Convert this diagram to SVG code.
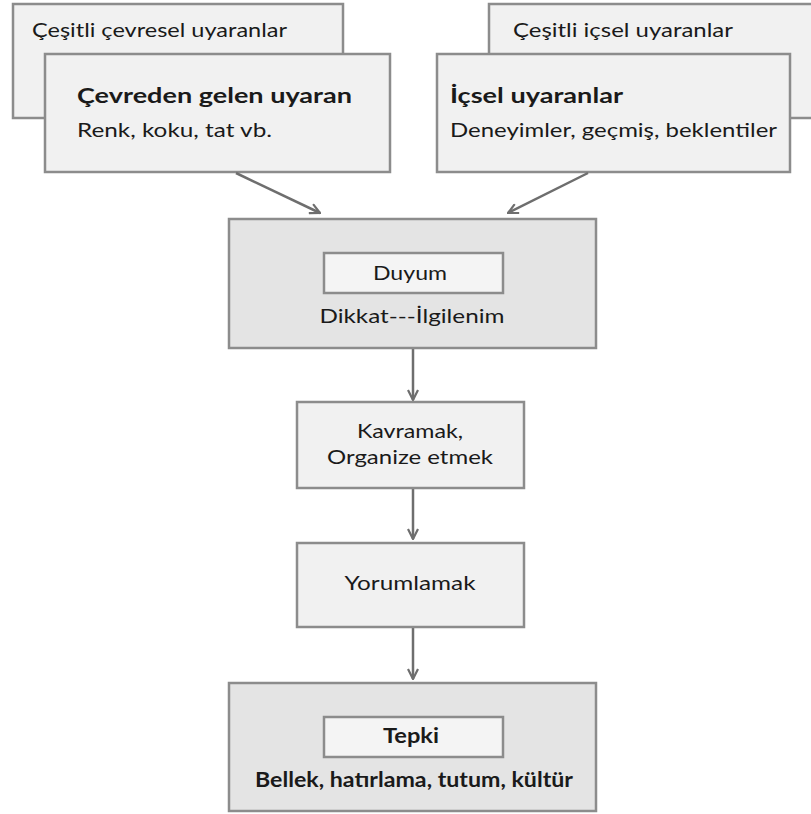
<svg xmlns="http://www.w3.org/2000/svg" width="811" height="814" viewBox="0 0 811 814">
<style>
.box{fill:#f1f1f1;stroke:#8c8c8c;stroke-width:2.5}
.big{fill:#e4e4e4;stroke:#8c8c8c;stroke-width:2.5}
.inner{fill:#f4f4f4;stroke:#8c8c8c;stroke-width:2.5}
text{font-family:Lato,"Open Sans","DejaVu Sans",sans-serif;font-size:20px;fill:#1a1a1a}
.b{font-weight:bold}
.h{font-size:21px}
.c{text-anchor:middle}
.conn{stroke:#6e6e6e;stroke-width:2.5;fill:none;marker-end:url(#ah)}
</style>
<defs>
<marker id="ah" viewBox="0 0 12 12" refX="11" refY="6" markerWidth="12" markerHeight="12" markerUnits="userSpaceOnUse" orient="auto">
<path d="M1,1 L11,6 L1,11" fill="none" stroke="#6e6e6e" stroke-width="2.2"/>
</marker>
</defs>
<g id="env-back"><rect class="box" x="13" y="4" width="330" height="114"/><text x="32" y="37" textLength="255" lengthAdjust="spacingAndGlyphs">Çeşitli çevresel uyaranlar</text></g>
<g id="env-front"><rect class="box" x="45" y="54" width="345" height="118"/><text class="b h" x="77" y="103" textLength="275" lengthAdjust="spacingAndGlyphs">Çevreden gelen uyaran</text><text x="77" y="137" textLength="195" lengthAdjust="spacingAndGlyphs">Renk, koku, tat vb.</text></g>
<g id="int-back"><rect class="box" x="489" y="4" width="330" height="114"/><text x="513" y="37" textLength="220" lengthAdjust="spacingAndGlyphs">Çeşitli içsel uyaranlar</text></g>
<g id="int-front"><rect class="box" x="437" y="54" width="353" height="118"/><text class="b h" x="450" y="103" textLength="173" lengthAdjust="spacingAndGlyphs">İçsel uyaranlar</text><text x="450" y="137" textLength="327" lengthAdjust="spacingAndGlyphs">Deneyimler, geçmiş, beklentiler</text></g>
<g id="connectors">
<line class="conn" x1="236" y1="173" x2="320" y2="213"/>
<line class="conn" x1="588" y1="173" x2="508" y2="213"/>
<line class="conn" x1="413" y1="349" x2="413" y2="400"/>
<line class="conn" x1="413" y1="489" x2="413" y2="539"/>
<line class="conn" x1="413" y1="628" x2="413" y2="679"/>
</g>
<g id="duyum"><rect class="big" x="229" y="219" width="367" height="129"/><rect class="inner" x="324" y="253" width="179" height="40"/><text class="c" x="410" y="280" textLength="74" lengthAdjust="spacingAndGlyphs">Duyum</text><text class="c" x="412" y="323" textLength="185" lengthAdjust="spacingAndGlyphs">Dikkat---İlgilenim</text></g>
<g id="kavramak"><rect class="box" x="297" y="402" width="227" height="86"/><text class="c" x="410" y="438" textLength="106" lengthAdjust="spacingAndGlyphs">Kavramak,</text><text class="c" x="410" y="464" textLength="166" lengthAdjust="spacingAndGlyphs">Organize etmek</text></g>
<g id="yorumlamak"><rect class="box" x="297" y="543" width="227" height="84"/><text class="c" x="410" y="590" textLength="131" lengthAdjust="spacingAndGlyphs">Yorumlamak</text></g>
<g id="tepki"><rect class="big" x="229" y="683" width="367" height="128"/><rect class="inner" x="324" y="717" width="179" height="40"/><text class="c b" x="411" y="743" textLength="56" lengthAdjust="spacingAndGlyphs">Tepki</text><text class="c b" x="414" y="787" textLength="318" lengthAdjust="spacingAndGlyphs">Bellek, hatırlama, tutum, kültür</text></g>
</svg>
